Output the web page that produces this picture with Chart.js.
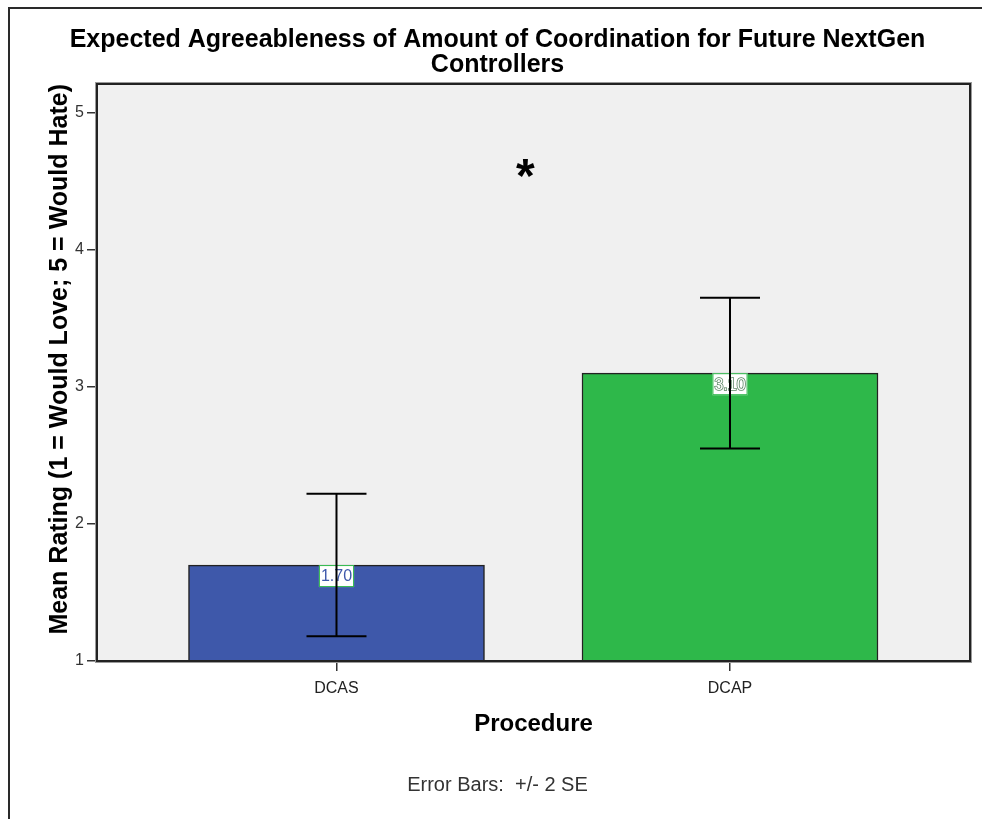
<!DOCTYPE html>
<html>
<head>
<meta charset="utf-8">
<title>Expected Agreeableness of Amount of Coordination</title>
<script src="https://cdn.jsdelivr.net/npm/chart.js@4.4.1/dist/chart.umd.min.js"></script>
<style>
  html, body { margin: 0; padding: 0; background: #ffffff; overflow: hidden; }
  #wrap { width: 982px; height: 819px; position: relative; overflow: hidden; }
  canvas { display: block; }
</style>
</head>
<body>
<div id="wrap"><canvas id="chart" width="982" height="819"></canvas></div>
<script>
// Procedures compared and their mean ratings
const procedures = ['DCAS', 'DCAP'];
const meanRatings = [1.70, 3.10];
// Error bar ends (mean +/- 2 SE)
const errorLower = [1.18, 2.55];
const errorUpper = [2.22, 3.65];
// Rating scale ticks
const ratingTicks = [1, 2, 3, 4, 5];
// Significance marker placed between the two bars
const sigMarkText = '*';
const sigMarkX = 0.48;
const sigMarkY = 4.60;

const barColors = ['#3E58AA', '#2EB84A'];
const valueTextColors = ['#3E58AA', '#FFFFFF'];
const FONT = '"Liberation Sans", Arial, Helvetica, sans-serif';

// Page frame, plot background and plot border
const framePlugin = {
  id: 'frame',
  beforeDraw(chart) {
    const { ctx, chartArea: a, width, height } = chart;
    ctx.save();
    ctx.fillStyle = '#ffffff';
    ctx.fillRect(0, 0, width, height);
    ctx.strokeStyle = '#2a2a2a';
    ctx.lineWidth = 2;
    ctx.beginPath();
    ctx.moveTo(9, height);
    ctx.lineTo(9, 8);
    ctx.lineTo(width, 8);
    ctx.stroke();
    ctx.fillStyle = '#F0F0F0';
    ctx.fillRect(a.left, a.top, a.right - a.left, a.bottom - a.top);
    ctx.restore();
  },
  afterDraw(chart) {
    const { ctx, chartArea: a } = chart;
    ctx.save();
    ctx.strokeStyle = '#9a9a9a';
    ctx.lineWidth = 1;
    ctx.strokeRect(a.left - 1.5, a.top - 1.5, a.right - a.left + 3, a.bottom - a.top + 3);
    ctx.strokeStyle = '#222222';
    ctx.lineWidth = 2;
    ctx.strokeRect(a.left, a.top, a.right - a.left, a.bottom - a.top);
    ctx.restore();
  }
};

// Value boxes, error bars and the significance marker
const annotatePlugin = {
  id: 'annotate',
  afterDatasetsDraw(chart) {
    const { ctx } = chart;
    const xs = chart.scales.x, ys = chart.scales.y;
    const meta = chart.getDatasetMeta(0);
    ctx.save();

    // value labels in small boxes just under each bar top
    ctx.font = '16px ' + FONT;
    ctx.textAlign = 'center';
    ctx.textBaseline = 'middle';
    meta.data.forEach((bar, i) => {
      const txt = meanRatings[i].toFixed(2);
      const w = ctx.measureText(txt).width + 4;
      const h = 22;
      const cx = bar.x;
      const top = ys.getPixelForValue(meanRatings[i]);
      ctx.fillStyle = '#ffffff';
      ctx.fillRect(cx - w / 2, top, w, h);
      ctx.strokeStyle = '#2EB84A';
      ctx.lineWidth = 1;
      ctx.strokeRect(cx - w / 2 + 0.5, top + 0.5, w - 1, h - 1);
      if (valueTextColors[i] === '#FFFFFF') {
        ctx.strokeStyle = 'rgba(60,110,70,0.85)';
        ctx.lineWidth = 1.6;
        ctx.strokeText(txt, cx, top + h / 2 + 1);
      }
      ctx.fillStyle = valueTextColors[i];
      ctx.fillText(txt, cx, top + h / 2 + 1);
    });

    // error bars
    ctx.strokeStyle = '#000000';
    ctx.lineWidth = 2;
    const cap = 30;
    procedures.forEach((p, i) => {
      const x = xs.getPixelForValue(i);
      const yLo = ys.getPixelForValue(errorLower[i]);
      const yHi = ys.getPixelForValue(errorUpper[i]);
      ctx.beginPath();
      ctx.moveTo(x, yLo); ctx.lineTo(x, yHi);
      ctx.moveTo(x - cap, yHi); ctx.lineTo(x + cap, yHi);
      ctx.moveTo(x - cap, yLo); ctx.lineTo(x + cap, yLo);
      ctx.stroke();
    });

    // significance marker
    ctx.font = 'bold 48px ' + FONT;
    ctx.textAlign = 'center';
    ctx.textBaseline = 'alphabetic';
    const m = ctx.measureText(sigMarkText);
    const sx = xs.getPixelForValue(sigMarkX);
    const sy = ys.getPixelForValue(sigMarkY);
    const base = sy + (m.actualBoundingBoxAscent - m.actualBoundingBoxDescent) / 2;
    ctx.fillStyle = '#000000';
    ctx.fillText(sigMarkText, sx, base);
    ctx.restore();
  }
};

new Chart(document.getElementById('chart'), {
  type: 'bar',
  data: {
    datasets: [{
      data: procedures.map((p, i) => ({ x: i, y: meanRatings[i] })),
      backgroundColor: barColors,
      borderColor: '#222222',
      borderWidth: 1.5,
      borderSkipped: false,
      barThickness: 296
    }]
  },
  options: {
    responsive: false,
    animation: false,
    devicePixelRatio: 1,
    layout: { padding: { left: 25, right: 12, top: 0, bottom: 0 } },
    plugins: {
      legend: { display: false },
      tooltip: { enabled: false },
      title: {
        display: true,
        text: ['Expected Agreeableness of Amount of Coordination for Future NextGen', 'Controllers'],
        color: '#000000',
        font: { family: FONT, size: 25, weight: 'bold', lineHeight: 1 },
        padding: { top: 27.5, bottom: 6.5 }
      },
      subtitle: {
        display: true,
        position: 'bottom',
        text: 'Error Bars:  +/- 2 SE',
        color: '#333333',
        font: { family: FONT, size: 20, weight: 'normal', lineHeight: 1 },
        padding: { top: 11, bottom: 24 }
      }
    },
    scales: {
      x: {
        type: 'linear',
        min: -0.6086,
        max: 1.6099,
        offset: false,
        afterBuildTicks: s => { s.ticks = procedures.map((p, i) => ({ value: i })); },
        afterFit: s => { s.height = 103; },
        ticks: {
          callback: v => procedures[v],
          color: '#222222',
          font: { family: FONT, size: 16 },
          padding: 8,
          maxRotation: 0
        },
        grid: { display: true, drawOnChartArea: false, drawTicks: true, tickLength: 10, color: '#333333', lineWidth: 1.5, offset: false },
        border: { display: false },
        title: {
          display: true,
          text: 'Procedure',
          color: '#000000',
          font: { family: FONT, size: 24, weight: 'bold', lineHeight: 1 },
          padding: { top: 0, bottom: 28 }
        }
      },
      y: {
        type: 'linear',
        min: 1,
        max: 5.21,
        beginAtZero: false,
        afterBuildTicks: s => { s.ticks = ratingTicks.map(v => ({ value: v })); },
        afterFit: s => { s.width = 72; },
        ticks: {
          color: '#333333',
          font: { family: FONT, size: 16 },
          padding: 3
        },
        grid: { display: true, drawOnChartArea: false, drawTicks: true, tickLength: 10, color: '#333333', lineWidth: 1.5 },
        border: { display: false },
        title: {
          display: true,
          text: 'Mean Rating (1 = Would Love; 5 = Would Hate)',
          align: 'end',
          color: '#000000',
          font: { family: FONT, size: 25, weight: 'bold', lineHeight: 1 },
          padding: { top: 23, bottom: 0 }
        }
      }
    }
  },
  plugins: [framePlugin, annotatePlugin]
});
</script>
</body>
</html>
